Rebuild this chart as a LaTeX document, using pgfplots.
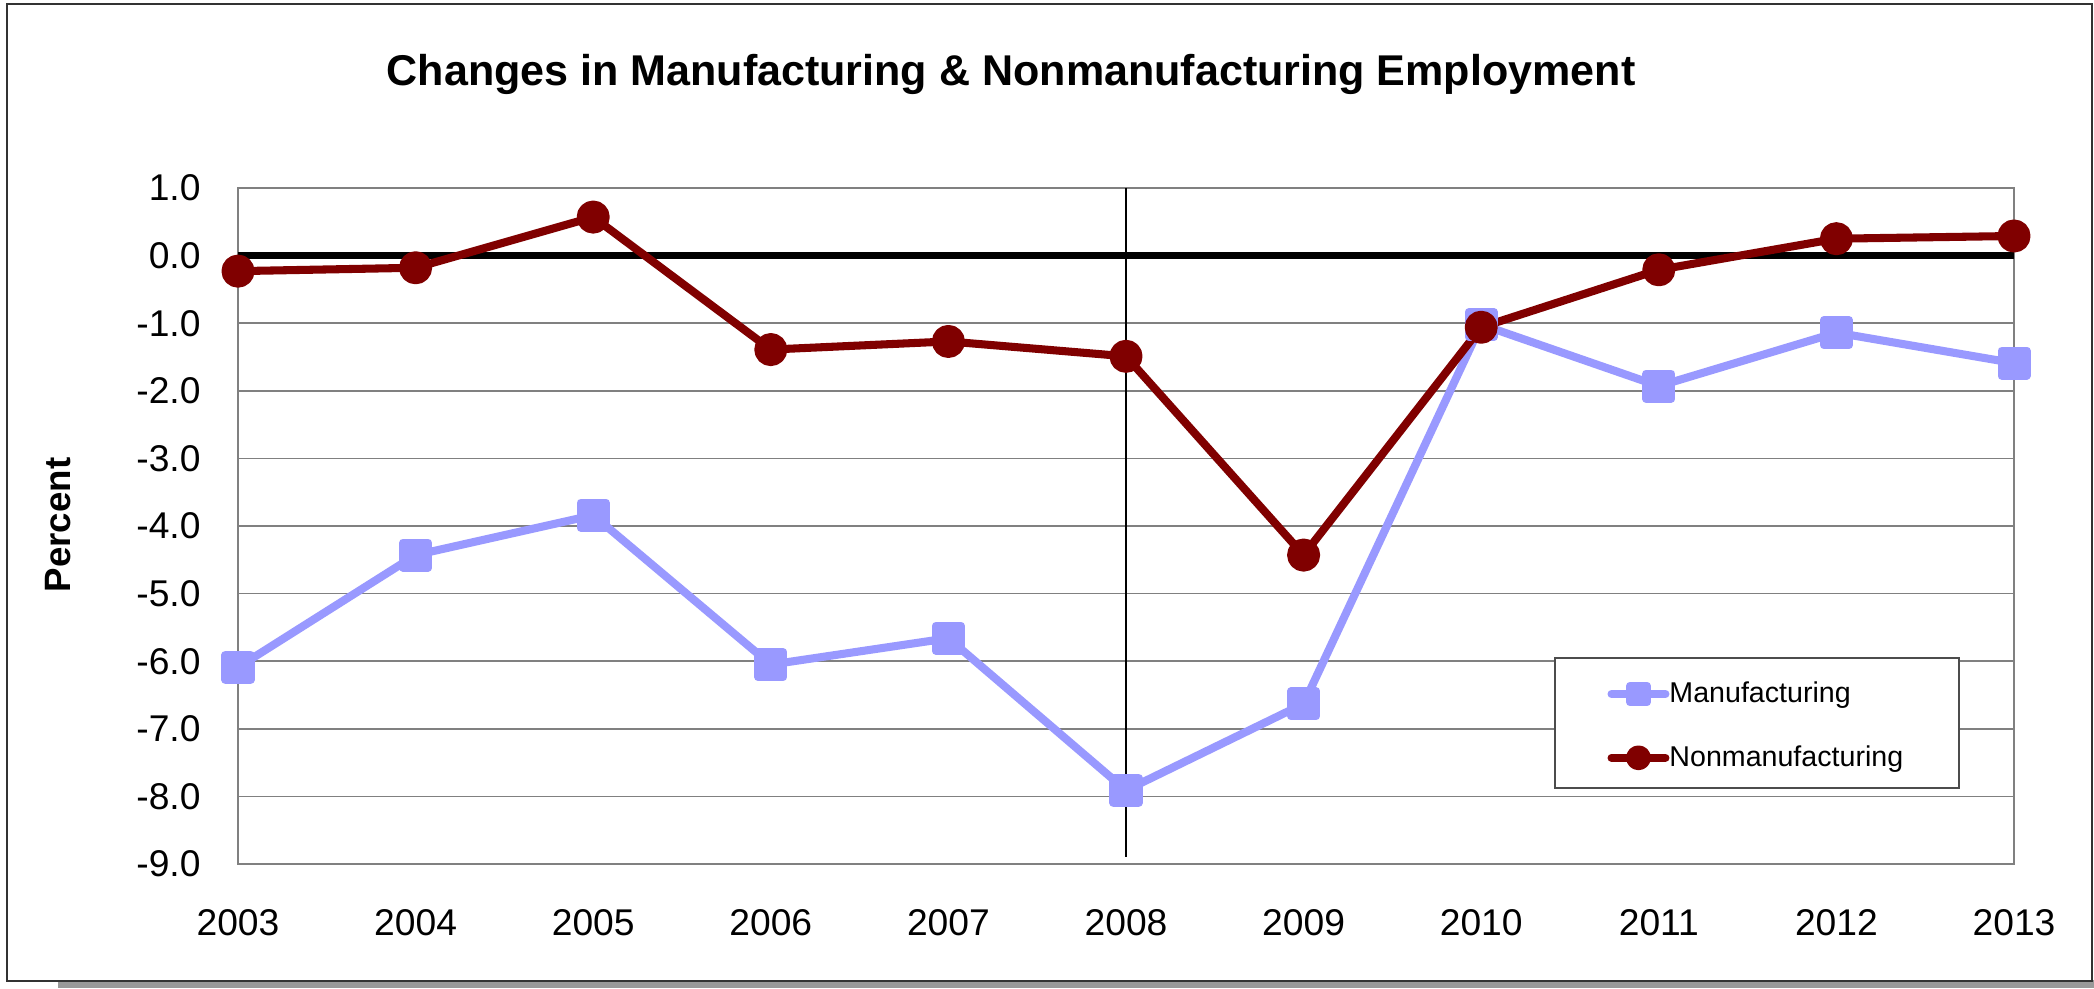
\documentclass[border=0pt]{standalone}
\usepackage{pgfplots}
\pgfplotsset{compat=1.18}
\usepackage{fontspec}
\setmainfont{Liberation Sans}
\definecolor{manuf}{HTML}{9999FF}
\definecolor{nonman}{HTML}{800000}
\definecolor{gridgray}{HTML}{808080}
\begin{document}
\begin{tikzpicture}
\useasboundingbox (0,0) rectangle (753.84pt,-355.68pt);
\fill[white] (0,0) rectangle (753.84pt,-355.68pt);
\fill[black!40] (20.88pt,-352.8pt) rectangle (753.84pt,-355.68pt);
\draw[black!80, line width=0.8pt] (2.52pt,-1.44pt) rectangle (753.12pt,-353.16pt);
\node[anchor=base, font=\bfseries\fontsize{15.5}{18}\selectfont] at (363.96pt,-30.8pt) {Changes in Manufacturing \& Nonmanufacturing Employment};
\node[rotate=90, anchor=base, font=\bfseries\fontsize{13.2}{16}\selectfont] at (25.2pt,-189pt) {Percent};
\begin{axis}[
 at={(85.68pt,-311.04pt)}, anchor=south west,
 scale only axis, width=639.36pt, height=243.36pt,
 xmin=0, xmax=10, ymin=-9, ymax=1,
 xtick={0,1,2,3,4,5,6,7,8,9,10},
 xticklabels={2003,2004,2005,2006,2007,2008,2009,2010,2011,2012,2013},
 ytick={-9,-8,-7,-6,-5,-4,-3,-2,-1,0,1},
 major tick length=0pt,
 axis line style={gridgray, line width=0.7pt},
 ymajorgrids, grid style={gridgray, line width=0.6pt},
 clip=false,
 tick label style={font=\fontsize{13.4}{16}\selectfont},
 /pgf/number format/assume math mode=true,
 y tick label style={/pgf/number format/.cd, fixed, fixed zerofill, precision=1, /tikz/.cd, anchor=east, inner sep=0pt, xshift=-13.3pt},
 x tick label style={anchor=north, inner sep=0pt, yshift=-16.3pt},
 legend image code/.code={\draw[mark repeat=2,mark phase=2,#1,mark size=3pt,line cap=round] plot coordinates {(0pt,0pt) (9.7pt,0pt) (19.4pt,0pt)};},
 legend cell align=left,
 legend style={draw=none, fill=none, at={(0.7708,0.2707)}, anchor=north west, inner sep=0pt, row sep=14pt,
   nodes={inner sep=0pt, font=\fontsize{10.3}{12}\selectfont}},
]
\addplot[black, line width=0.6pt, forget plot] coordinates {(5,1) (5,-8.9)};
\addplot[black, line width=2.6pt, forget plot] coordinates {(0,0) (10,0)};
\draw[fill=white, draw=black!70, line width=0.6pt] (rel axis cs:0.74155,0.30473) rectangle (rel axis cs:0.96903,0.11243);
\addplot[manuf, line width=2.9pt, line join=round, mark=square*, mark size=4.5pt, mark options={draw=none, fill=manuf}]
 coordinates {(0,-6.09) (1,-4.43) (2,-3.84) (3,-6.05) (4,-5.66) (5,-7.91) (6,-6.63) (7,-1.02) (8,-1.93) (9,-1.14) (10,-1.59)};
\addlegendentry{Manufacturing}
\addplot[nonman, line width=2.9pt, line join=round, mark=*, mark size=4.5pt, mark options={draw=none, fill=nonman}]
 coordinates {(0,-0.23) (1,-0.18) (2,0.57) (3,-1.39) (4,-1.27) (5,-1.49) (6,-4.43) (7,-1.06) (8,-0.21) (9,0.25) (10,0.29)};
\addlegendentry{Nonmanufacturing}
\end{axis}
\end{tikzpicture}
\end{document}
